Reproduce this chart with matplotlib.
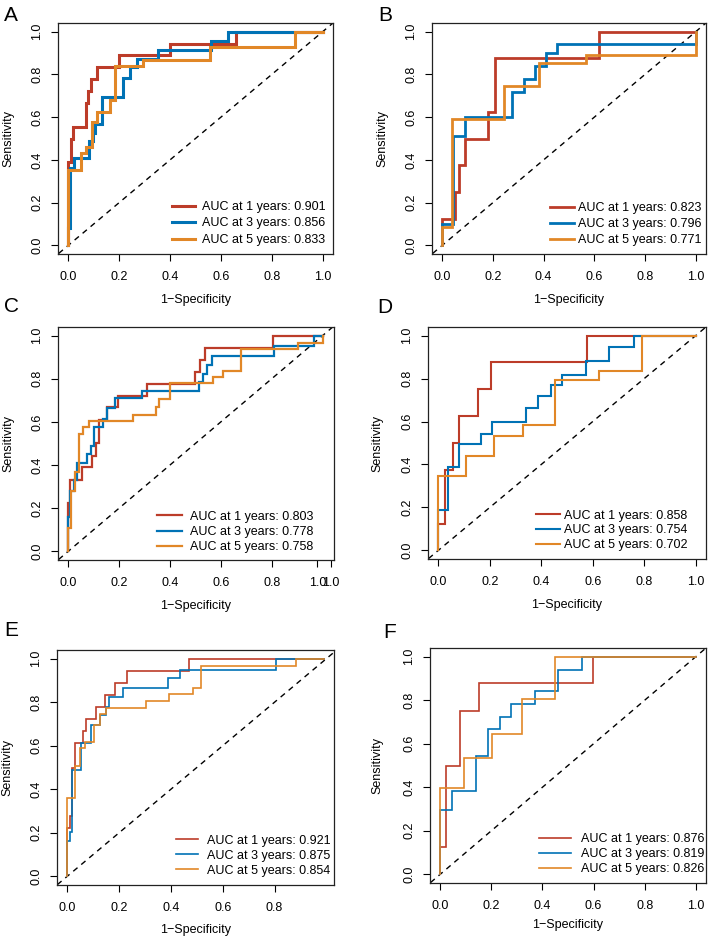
import matplotlib
matplotlib.use("Agg")
import matplotlib.pyplot as plt

plt.rcParams['font.family'] = ['Liberation Sans', 'DejaVu Sans']

COLORS = ['#BC3C29', '#0072B5', '#E18727']
YEARS = [1, 3, 5]
X_TICKS = [0.0, 0.2, 0.4, 0.6, 0.8, 1.0]
Y_TICKS = [0.0, 0.2, 0.4, 0.6, 0.8, 1.0]

# ---------------- Panel A ----------------
a_fpr_1 = [0, 0.011, 0.02, 0.07, 0.079, 0.089, 0.112, 0.2, 0.4, 0.66, 1.0]
a_tpr_1 = [0.389, 0.5, 0.556, 0.667, 0.722, 0.778, 0.833, 0.889, 0.944, 1.0, 1.0]
a_fpr_3 = [0, 0.009, 0.022, 0.083, 0.096, 0.105, 0.131, 0.214, 0.243, 0.269, 0.354, 0.56, 0.627, 1.0]
a_tpr_3 = [0.08, 0.36, 0.41, 0.486, 0.525, 0.569, 0.694, 0.783, 0.833, 0.872, 0.912, 0.958, 1.0, 1.0]
a_fpr_5 = [0, 0.052, 0.07, 0.092, 0.112, 0.164, 0.184, 0.293, 0.558, 0.892, 1.0]
a_tpr_5 = [0.353, 0.431, 0.458, 0.575, 0.622, 0.681, 0.84, 0.866, 0.927, 1.0, 1.0]
a_auc = [0.901, 0.856, 0.833]

# ---------------- Panel B ----------------
b_fpr_1 = [0, 0.05, 0.067, 0.089, 0.182, 0.208, 0.62, 1.0]
b_tpr_1 = [0.125, 0.25, 0.375, 0.5, 0.625, 0.875, 1.0, 1.0]
b_fpr_3 = [0, 0.043, 0.089, 0.274, 0.322, 0.366, 0.408, 0.454, 1.0]
b_tpr_3 = [0.098, 0.51, 0.6, 0.717, 0.78, 0.84, 0.9, 0.94, 1.0]
b_fpr_5 = [0, 0.04, 0.245, 0.382, 0.566, 1.0]
b_tpr_5 = [0.088, 0.59, 0.747, 0.853, 0.892, 1.0]
b_auc = [0.823, 0.796, 0.771]

# ---------------- Panel C ----------------
c_fpr_1 = [0, 0.009, 0.056, 0.092, 0.111, 0.122, 0.153, 0.197, 0.308, 0.498, 0.518, 0.537, 0.806, 1.0]
c_tpr_1 = [0.222, 0.333, 0.389, 0.444, 0.5, 0.611, 0.667, 0.722, 0.778, 0.833, 0.889, 0.944, 1.0, 1.0]
c_fpr_3 = [0, 0.009, 0.022, 0.035, 0.075, 0.088, 0.102, 0.135, 0.153, 0.183, 0.292, 0.514, 0.531, 0.547, 0.564, 0.81, 0.967, 1.0]
c_tpr_3 = [0.16, 0.28, 0.33, 0.41, 0.45, 0.49, 0.575, 0.614, 0.664, 0.71, 0.745, 0.785, 0.82, 0.864, 0.907, 0.954, 1.0, 1.0]
c_fpr_5 = [0, 0.013, 0.026, 0.043, 0.059, 0.083, 0.256, 0.345, 0.358, 0.4, 0.57, 0.607, 0.679, 0.902, 1.0]
c_tpr_5 = [0.108, 0.278, 0.367, 0.545, 0.576, 0.603, 0.63, 0.668, 0.707, 0.78, 0.81, 0.838, 0.94, 0.967, 1.0]
c_auc = [0.803, 0.778, 0.758]

# ---------------- Panel D ----------------
d_fpr_1 = [0, 0.026, 0.056, 0.082, 0.156, 0.206, 0.576, 1.0]
d_tpr_1 = [0.125, 0.375, 0.5, 0.625, 0.75, 0.875, 1.0, 1.0]
d_fpr_3 = [0, 0.039, 0.082, 0.167, 0.209, 0.342, 0.389, 0.437, 0.482, 0.574, 0.665, 0.76, 1.0]
d_tpr_3 = [0.19, 0.39, 0.495, 0.542, 0.6, 0.661, 0.717, 0.772, 0.817, 0.88, 0.946, 1.0, 1.0]
d_fpr_5 = [0, 0.107, 0.215, 0.33, 0.454, 0.623, 0.791, 1.0]
d_tpr_5 = [0.347, 0.441, 0.534, 0.585, 0.795, 0.834, 1.0, 1.0]
d_auc = [0.858, 0.754, 0.702]

# ---------------- Panel E ----------------
e_fpr_1 = [0, 0.009, 0.019, 0.028, 0.06, 0.071, 0.112, 0.144, 0.183, 0.232, 0.47, 0.99]
e_tpr_1 = [0.222, 0.278, 0.5, 0.611, 0.667, 0.722, 0.778, 0.833, 0.889, 0.944, 1.0, 1.0]
e_fpr_3 = [0, 0.012, 0.019, 0.054, 0.093, 0.125, 0.151, 0.163, 0.215, 0.389, 0.434, 0.804, 0.99]
e_tpr_3 = [0.163, 0.205, 0.49, 0.612, 0.697, 0.743, 0.778, 0.825, 0.866, 0.912, 0.95, 1.0, 1.0]
e_fpr_5 = [0, 0.028, 0.048, 0.067, 0.105, 0.125, 0.148, 0.305, 0.392, 0.485, 0.515, 0.881, 0.99]
e_tpr_5 = [0.358, 0.505, 0.589, 0.615, 0.697, 0.746, 0.774, 0.805, 0.84, 0.866, 0.966, 1.0, 1.0]
e_auc = [0.921, 0.875, 0.854]

# ---------------- Panel F ----------------
f_fpr_1 = [0, 0.023, 0.078, 0.153, 0.597, 1.0]
f_tpr_1 = [0.126, 0.5, 0.75, 0.877, 1.0, 1.0]
f_fpr_3 = [0, 0.047, 0.14, 0.188, 0.234, 0.277, 0.371, 0.461, 0.553, 1.0]
f_tpr_3 = [0.296, 0.384, 0.542, 0.666, 0.724, 0.781, 0.843, 0.94, 1.0, 1.0]
f_fpr_5 = [0, 0.092, 0.203, 0.319, 0.448, 1.0]
f_tpr_5 = [0.396, 0.535, 0.646, 0.804, 1.0, 1.0]
f_auc = [0.876, 0.819, 0.826]

panels = [
    dict(letter='A', curves=[(a_fpr_1, a_tpr_1), (a_fpr_3, a_tpr_3), (a_fpr_5, a_tpr_5)], auc=a_auc,
         box=(58, 23, 333, 254), xlim=(-0.04, 1.04), lw=2.2, xticks=X_TICKS, xtl=None,
         leg=(0.972, 0.035, 1.85, 0.55, 0.36), letter_xy=(4, 6), xlab_y=-0.199, ylab_x=-0.182),
    dict(letter='B', curves=[(b_fpr_1, b_tpr_1), (b_fpr_3, b_tpr_3), (b_fpr_5, b_tpr_5)], auc=b_auc,
         box=(432, 23, 706, 254), xlim=(-0.04, 1.04), lw=2.0, xticks=X_TICKS, xtl=None,
         leg=(0.982, 0.035, 1.85, 0.32, 0.3), letter_xy=(378, 6), xlab_y=-0.199, ylab_x=-0.182),
    dict(letter='C', curves=[(c_fpr_1, c_tpr_1), (c_fpr_3, c_tpr_3), (c_fpr_5, c_tpr_5)], auc=c_auc,
         box=(58, 327, 334, 560), xlim=(-0.04, 1.045), lw=1.6, xticks=[0.0, 0.2, 0.4, 0.6, 0.8, 0.98, 1.033],
         xtl=['0.0', '0.2', '0.4', '0.6', '0.8', '1.0', '1.0'],
         leg=(0.924, 0.03, 2.0, 0.64, 0.25), letter_xy=(4, 297), xlab_y=-0.197, ylab_x=-0.181),
    dict(letter='D', curves=[(d_fpr_1, d_tpr_1), (d_fpr_3, d_tpr_3), (d_fpr_5, d_tpr_5)], auc=d_auc,
         box=(428, 327, 706, 559), xlim=(-0.04, 1.04), lw=1.5, xticks=X_TICKS, xtl=None,
         leg=(0.932, 0.034, 1.85, 0.32, 0.22), letter_xy=(377, 298), xlab_y=-0.198, ylab_x=-0.183),
    dict(letter='E', curves=[(e_fpr_1, e_tpr_1), (e_fpr_3, e_tpr_3), (e_fpr_5, e_tpr_5)], auc=e_auc,
         box=(57, 650, 334, 885), xlim=(-0.0396, 1.0296), lw=1.2, xticks=X_TICKS[:-1], xtl=None,
         leg=(0.989, 0.036, 1.75, 0.72, 0.24), letter_xy=(4, 621), xlab_y=-0.19, ylab_x=-0.18),
    dict(letter='F', curves=[(f_fpr_1, f_tpr_1), (f_fpr_3, f_tpr_3), (f_fpr_5, f_tpr_5)], auc=f_auc,
         box=(430, 648, 706, 883), xlim=(-0.04, 1.04), lw=1.2, xticks=X_TICKS, xtl=None,
         leg=(0.993, 0.032, 2.5, 0.8, 0.24), letter_xy=(383, 623), xlab_y=-0.179, ylab_x=-0.192),
]

W, H = 708, 938
fig = plt.figure(figsize=(W / 100, H / 100), dpi=100)
FS = 9

for p in panels:
    x0, y0, x1, y1 = p['box']
    ax = fig.add_axes([x0 / W, 1 - y1 / H, (x1 - x0) / W, (y1 - y0) / H])
    ax.set_xlim(*p['xlim'])
    ax.set_ylim(-0.04, 1.04)
    ax.plot([-0.1, 1.2], [-0.1, 1.2], color='black', lw=1.0, linestyle=(0, (4, 3.5)), zorder=1)
    handles = []
    for (fpr, tpr), col, yr, auc in zip(p['curves'], COLORS, YEARS, p['auc']):
        h, = ax.plot([0] + list(fpr), [0] + list(tpr), drawstyle='steps-post', color=col,
                     lw=p['lw'], solid_joinstyle='miter', zorder=2,
                     label=f'AUC at {yr} years: {auc:.3f}')
        handles.append(h)
    lx, ly, hl, htp, lsp = p['leg']
    ax.legend(handles=handles, loc='lower right', bbox_to_anchor=(lx, ly), frameon=False,
              fontsize=FS, borderpad=0, borderaxespad=0, labelspacing=lsp,
              handlelength=hl, handletextpad=htp)
    ax.set_xticks(p['xticks'])
    if p['xtl'] is not None:
        ax.set_xticklabels(p['xtl'])
    else:
        ax.set_xticklabels([f'{v:.1f}' for v in p['xticks']])
    ax.set_yticks(Y_TICKS)
    ax.set_yticklabels([f'{v:.1f}' for v in Y_TICKS])
    ax.tick_params(axis='both', direction='out', length=5, width=0.8, labelsize=FS, colors='black')
    ax.tick_params(axis='x', pad=7.5)
    ax.tick_params(axis='y', pad=5.5)
    for lab in ax.get_yticklabels():
        lab.set_rotation(90)
        lab.set_va('center')
    for sp in ax.spines.values():
        sp.set_linewidth(0.9)
        sp.set_color('#222222')
    ax.set_xlabel('1\u2212Specificity', fontsize=FS, va='center')
    ax.xaxis.set_label_coords(0.5, p['xlab_y'])
    ax.set_ylabel('Sensitivity', fontsize=FS, va='center')
    ax.yaxis.set_label_coords(p['ylab_x'], 0.5)
    lxp, lyp = p['letter_xy']
    fig.text(lxp / W, 1 - lyp / H, p['letter'], fontsize=15, ha='left', va='top')

fig.savefig('out.png', dpi=100)
